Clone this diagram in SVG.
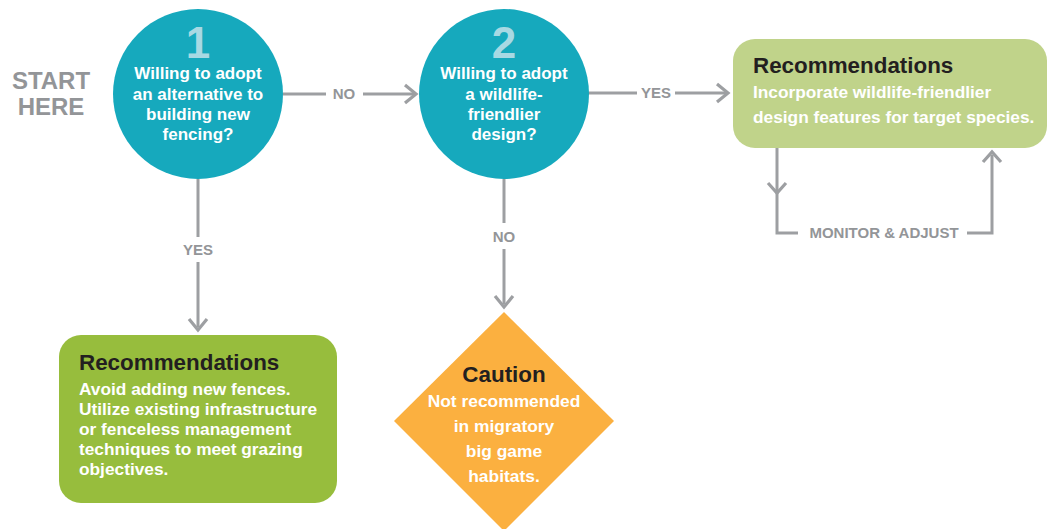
<svg xmlns="http://www.w3.org/2000/svg" width="1047" height="529" viewBox="0 0 1047 529">
  <style>
    text { font-family: "Liberation Sans", Arial, sans-serif; font-weight: bold; }
    .start { fill: #939598; font-size: 24px; text-anchor: middle; }
    .num { fill: #a8d9e3; font-size: 44px; text-anchor: middle; }
    .q { fill: #ffffff; font-size: 17px; text-anchor: middle; }
    .cq { fill: #ffffff; font-size: 17.4px; text-anchor: middle; }
    .title { fill: #231f20; font-size: 22.4px; }
    .body { fill: #ffffff; font-size: 17.3px; }
    .lbl { fill: #939598; font-size: 15px; text-anchor: middle; }
    .wire { fill: none; stroke: #9d9fa2; stroke-width: 3; }
    .head { fill: none; stroke: #9d9fa2; stroke-width: 3.2; stroke-linejoin: miter; }
  </style>

  <!-- start caption -->
  <g id="start">
    <text class="start" x="51" y="89">START</text>
    <text class="start" x="51" y="115">HERE</text>
  </g>

  <!-- connectors -->
  <g id="connectors">
    <!-- question 1 -> question 2 -->
    <path class="wire" d="M283,94 H326 M363,94 H414"/>
    <path class="head" d="M405,85 L416,94 L405,103"/>
    <text class="lbl" x="344" y="99">NO</text>

    <!-- question 2 -> design recommendations -->
    <path class="wire" d="M588,93 H637 M675,93 H726"/>
    <path class="head" d="M717,84 L728,93 L717,102"/>
    <text class="lbl" x="656" y="98">YES</text>

    <!-- question 1 -> avoid fences -->
    <path class="wire" d="M198,179 V237 M198,262 V327"/>
    <path class="head" d="M189,319 L198,330 L207,319"/>
    <text class="lbl" x="198" y="255">YES</text>

    <!-- question 2 -> caution -->
    <path class="wire" d="M504,179 V223 M504,249 V304"/>
    <path class="head" d="M495,296 L504,307 L513,296"/>
    <text class="lbl" x="504" y="242">NO</text>

    <!-- monitor & adjust loop -->
    <path class="wire" d="M777,148 V233 H798 M967,233 H992 V155"/>
    <path class="head" d="M768,183 L777,193 L786,183"/>
    <path class="head" d="M983,162 L992,152 L1001,162"/>
    <text class="lbl" x="884" y="238">MONITOR &amp; ADJUST</text>
  </g>

  <!-- question 1 -->
  <g id="q1">
    <circle cx="198" cy="94" r="85" fill="#16a9bd"/>
    <text class="num" x="198" y="58">1</text>
    <text class="q" x="198" y="79">Willing to adopt</text>
    <text class="q" x="198" y="100">an alternative to</text>
    <text class="q" x="198" y="120">building new</text>
    <text class="q" x="198" y="140">fencing?</text>
  </g>

  <!-- question 2 -->
  <g id="q2">
    <circle cx="504" cy="94" r="85" fill="#16a9bd"/>
    <text class="num" x="504" y="58">2</text>
    <text class="q" x="504" y="79">Willing to adopt</text>
    <text class="q" x="504" y="100">a wildlife-</text>
    <text class="q" x="504" y="120">friendlier</text>
    <text class="q" x="504" y="140">design?</text>
  </g>

  <!-- wildlife-friendlier design recommendations -->
  <g id="rec-design">
    <rect x="733" y="39" width="314" height="109" rx="22" fill="#c0d38a"/>
    <text class="title" x="753" y="73">Recommendations</text>
    <text class="body" x="753" y="98">Incorporate wildlife-friendlier</text>
    <text class="body" x="753" y="123">design features for target species.</text>
  </g>

  <!-- avoid new fences recommendations -->
  <g id="rec-avoid">
    <rect x="59" y="335" width="278" height="168" rx="22" fill="#97bd3d"/>
    <text class="title" x="79" y="370">Recommendations</text>
    <text class="body" x="79" y="395">Avoid adding new fences.</text>
    <text class="body" x="79" y="415">Utilize existing infrastructure</text>
    <text class="body" x="79" y="435">or fenceless management</text>
    <text class="body" x="79" y="455">techniques to meet grazing</text>
    <text class="body" x="79" y="475">objectives.</text>
  </g>

  <!-- caution diamond -->
  <g id="caution">
    <polygon points="504,312 614,421 504,531 394,421" fill="#fbb040"/>
    <text class="title" x="504" y="382" text-anchor="middle">Caution</text>
    <text class="cq" x="504" y="407">Not recommended</text>
    <text class="cq" x="504" y="432">in migratory</text>
    <text class="cq" x="504" y="457">big game</text>
    <text class="cq" x="504" y="482">habitats.</text>
  </g>
</svg>
